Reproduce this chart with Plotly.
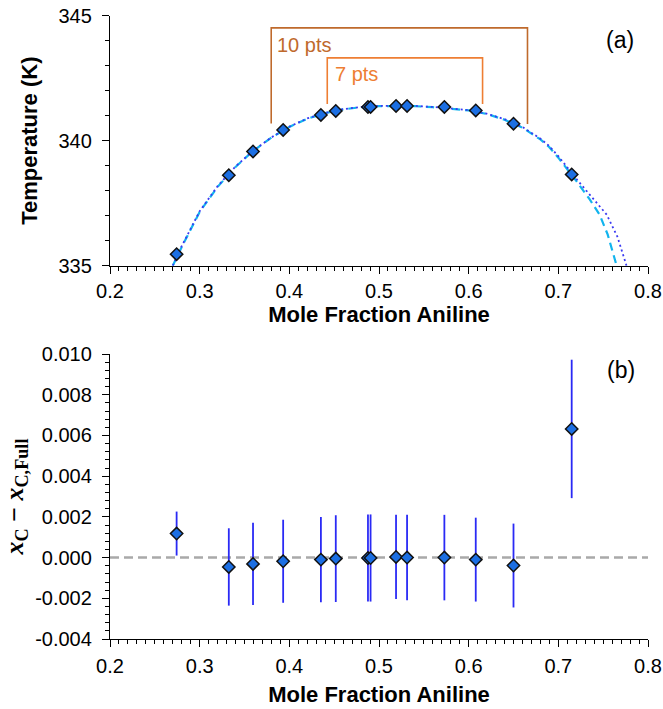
import plotly.graph_objects as go

# ---------------- data ----------------
x_data = [0.2743, 0.3325, 0.3595, 0.3931, 0.4352, 0.4518, 0.4877, 0.4906,
          0.5190, 0.5313, 0.5729, 0.6079, 0.6500, 0.7149]
T_data = [335.46, 338.62, 339.57, 340.43, 341.03, 341.19, 341.35, 341.35,
          341.39, 341.39, 341.35, 341.21, 340.68, 338.65]

dx_vals = [0.00118, -0.00046, -0.00031, -0.00018, -0.00010, -0.00005, -0.00002, -0.00002,
           0.00003, 0.00000, 0.00000, -0.00010, -0.00039, 0.00632]
dx_err = [0.00108, 0.00190, 0.00202, 0.00204, 0.00209, 0.00213, 0.00214, 0.00214,
          0.00207, 0.00210, 0.00210, 0.00206, 0.00206, 0.00340]

# fitted curves
fit_dash_x = [0.270, 0.280, 0.300, 0.320, 0.340, 0.360, 0.380, 0.400, 0.420, 0.440,
              0.460, 0.480, 0.500, 0.520, 0.540, 0.560, 0.580, 0.600, 0.620, 0.640,
              0.660, 0.680, 0.690, 0.700, 0.720, 0.735, 0.746, 0.755, 0.765]
fit_dash_T = [335.00, 335.75, 337.15, 338.15, 338.95, 339.60, 340.12, 340.55, 340.88, 341.10,
              341.25, 341.34, 341.38, 341.39, 341.38, 341.34, 341.29, 341.21, 341.07, 340.84,
              340.52, 340.05, 339.74, 339.32, 338.39, 337.65, 337.04, 336.25, 335.00]
fit_dot_x = [0.270, 0.280, 0.300, 0.320, 0.340, 0.360, 0.380, 0.400, 0.420, 0.440,
             0.460, 0.480, 0.500, 0.520, 0.540, 0.560, 0.580, 0.600, 0.620, 0.640,
             0.660, 0.680, 0.690, 0.700, 0.722, 0.740, 0.754, 0.766, 0.776]
fit_dot_T = [335.00, 335.78, 337.18, 338.18, 338.97, 339.61, 340.13, 340.56, 340.89, 341.11,
             341.26, 341.35, 341.39, 341.40, 341.39, 341.35, 341.30, 341.22, 341.08, 340.86,
             340.55, 340.08, 339.78, 339.38, 338.39, 337.65, 337.04, 336.15, 335.00]

# brackets
br10_x = [0.3798, 0.3798, 0.6656, 0.6656]
br10_T = [340.69, 344.51, 344.51, 340.67]
br7_x = [0.4423, 0.4423, 0.6155, 0.6155]
br7_T = [341.47, 343.31, 343.31, 341.47]

x_ticks = [0.2, 0.3, 0.4, 0.5, 0.6, 0.7, 0.8]
x_ticktext = ["0.2", "0.3", "0.4", "0.5", "0.6", "0.7", "0.8"]
T_ticks = [335, 340, 345]
T_ticktext = ["335", "340", "345"]
d_ticks = [-0.004, -0.002, 0.0, 0.002, 0.004, 0.006, 0.008, 0.010]
d_ticktext = ["-0.004", "-0.002", "0.000", "0.002", "0.004", "0.006", "0.008", "0.010"]

# ---------------- style ----------------
FONT = "Liberation Sans, Arial, sans-serif"
MARK_FILL = "#1C6FE3"
C_DASH = "#12B4EE"
C_DOT = "#3A3AF2"
C_ERR = "#2A2AF5"
C_10 = "#BF6A2C"
C_7 = "#EE7E33"

fig = go.Figure()

fig.add_trace(go.Scatter(x=fit_dash_x, y=fit_dash_T, mode="lines",
                         line=dict(color=C_DASH, width=2.2, dash="8px,5px"),
                         xaxis="x", yaxis="y", showlegend=False, hoverinfo="skip"))
fig.add_trace(go.Scatter(x=fit_dot_x, y=fit_dot_T, mode="lines",
                         line=dict(color=C_DOT, width=1.8, dash="2px,3px"),
                         xaxis="x", yaxis="y", showlegend=False, hoverinfo="skip"))
fig.add_trace(go.Scatter(x=br10_x, y=br10_T, mode="lines",
                         line=dict(color=C_10, width=1.6),
                         xaxis="x", yaxis="y", showlegend=False, hoverinfo="skip"))
fig.add_trace(go.Scatter(x=br7_x, y=br7_T, mode="lines",
                         line=dict(color=C_7, width=1.6),
                         xaxis="x", yaxis="y", showlegend=False, hoverinfo="skip"))
fig.add_trace(go.Scatter(x=x_data, y=T_data, mode="markers",
                         marker=dict(symbol="diamond", size=9.5, color=MARK_FILL,
                                     line=dict(color="#111111", width=1.5)),
                         xaxis="x", yaxis="y", showlegend=False))

# bottom panel
fig.add_trace(go.Scatter(x=[0.2, 0.8], y=[0, 0], mode="lines",
                         line=dict(color="#A9A9A9", width=2.5, dash="9px,5px"),
                         xaxis="x2", yaxis="y2", showlegend=False, hoverinfo="skip"))
fig.add_trace(go.Scatter(x=x_data, y=dx_vals, mode="markers",
                         error_y=dict(type="data", array=dx_err, visible=True,
                                      color=C_ERR, thickness=1.8, width=0),
                         marker=dict(symbol="diamond", size=9.5, color=MARK_FILL,
                                     line=dict(color="#111111", width=1.5)),
                         xaxis="x2", yaxis="y2", showlegend=False))

axis_common = dict(showline=True, linecolor="black", linewidth=1.3, ticks="outside",
                   ticklen=7, tickwidth=1.3, tickcolor="black", showgrid=False,
                   zeroline=False, mirror=False, automargin=False,
                   tickfont=dict(family=FONT, size=20, color="black"))

fig.update_layout(
    width=663, height=709,
    paper_bgcolor="white", plot_bgcolor="white",
    margin=dict(l=110, r=15, t=0, b=0, pad=0, autoexpand=False),
    font=dict(family=FONT, color="black"),
    xaxis=dict(domain=[0, 1], anchor="y", range=[0.2, 0.8],
               tickvals=x_ticks, ticktext=x_ticktext,
               minor=dict(dtick=0.01, ticklen=4, tickcolor="black", ticks="outside"),
               title=dict(text="<b>Mole Fraction Aniline</b>",
                          font=dict(family=FONT, size=22), standoff=4),
               **axis_common),
    yaxis=dict(domain=[0.6253, 0.9779], anchor="x", range=[335, 345],
               tickvals=T_ticks, ticktext=T_ticktext, ticklabelstandoff=6,
               minor=dict(dtick=1, ticklen=4, tickcolor="black", ticks="outside"),
               title=dict(text="<b>Temperature (K)</b>",
                          font=dict(family=FONT, size=22), standoff=14),
               **axis_common),
    xaxis2=dict(domain=[0, 1], anchor="y2", range=[0.2, 0.8],
                tickvals=x_ticks, ticktext=x_ticktext, ticklabelstandoff=2,
                minor=dict(dtick=0.01, ticklen=4, tickcolor="black", ticks="outside"),
                title=dict(text="<b>Mole Fraction Aniline</b>",
                           font=dict(family=FONT, size=22), standoff=10),
                **axis_common),
    yaxis2=dict(domain=[0.0987, 0.5007], anchor="x2", range=[-0.004, 0.010],
                tickvals=d_ticks, ticktext=d_ticktext, ticklabelstandoff=6,
                minor=dict(dtick=0.0004, ticklen=4, tickcolor="black", ticks="outside"),
                title=dict(text="<b><i>x</i><sub>C</sub> − <i>x</i><sub>C,Full</sub></b>",
                           font=dict(family="Liberation Serif, Times New Roman, serif", size=26),
                           standoff=4),
                **axis_common),
)

fig.add_annotation(x=0.3845, y=343.83, xref="x", yref="y", text="10 pts", showarrow=False,
                   xanchor="left", yanchor="middle",
                   font=dict(family=FONT, size=20, color=C_10))
fig.add_annotation(x=0.4485, y=342.65, xref="x", yref="y", text="7 pts", showarrow=False,
                   xanchor="left", yanchor="middle",
                   font=dict(family=FONT, size=20, color=C_7))
fig.add_annotation(x=0.769, y=344.03, xref="x", yref="y", text="(a)", showarrow=False,
                   xanchor="center", yanchor="middle",
                   font=dict(family=FONT, size=23, color="black"))
fig.add_annotation(x=0.770, y=0.00922, xref="x2", yref="y2", text="(b)", showarrow=False,
                   xanchor="center", yanchor="middle",
                   font=dict(family=FONT, size=23, color="black"))

fig.write_html("out.html")
